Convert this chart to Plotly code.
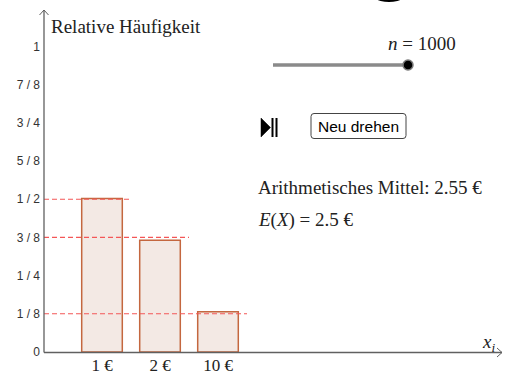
import plotly.graph_objects as go

# data
categories = ["1 €", "2 €", "10 €"]
payouts = [1, 2, 10]
rel_freq = [0.502, 0.366, 0.132]
probs = [1 / 2, 3 / 8, 1 / 8]
y_ticks = [0, 1 / 8, 1 / 4, 3 / 8, 1 / 2, 5 / 8, 3 / 4, 7 / 8, 1]
y_tick_labels = ["0", "1 / 8", "1 / 4", "3 / 8", "1 / 2", "5 / 8", "3 / 4", "7 / 8", "1"]
n_draws = 1000

W, H = 509, 374
L, B = 44, 22
PW, PH = W - L, H - B
X_RANGE = [0, PW / 58]
Y_RANGE = [0, PH / 305.6]

SERIF = "Liberation Serif, DejaVu Serif, serif"
SANS = "Liberation Sans, Arial, sans-serif"
SP = "&nbsp;"


def px(X):
    return (X - L) / PW


def py(Y):
    return (PH - Y) / PH


positions = list(range(1, len(categories) + 1))
mean = sum(p * f for p, f in zip(payouts, rel_freq))
expect = sum(p * q for p, q in zip(payouts, probs))

fig = go.Figure()
fig.add_trace(go.Bar(
    x=positions, y=rel_freq, width=0.7,
    marker=dict(color="#F3E9E4", line=dict(color="#C4673F", width=1.5)),
    hoverinfo="skip",
))

shapes = []
# theoretical probabilities as dashed lines
for pos, q in zip(positions, probs):
    shapes.append(dict(type="line", xref="x", yref="y", x0=0, x1=pos + 0.5, y0=q, y1=q,
                       line=dict(color="#F45757", width=1.1, dash="5px,3px")))

# axes with open arrow heads
ax_col = "#606060"
shapes += [
    dict(type="line", xref="paper", yref="paper", x0=px(44), x1=px(502), y0=py(352.5), y1=py(352.5),
         line=dict(color=ax_col, width=1.3)),
    dict(type="line", xref="paper", yref="paper", x0=px(44), x1=px(44), y0=py(352.5), y1=py(10),
         line=dict(color=ax_col, width=1.3)),
    dict(type="path", xref="paper", yref="paper",
         path=f"M {px(497)} {py(348)} L {px(502)} {py(352.5)} L {px(497)} {py(357)}",
         line=dict(color=ax_col, width=1)),
    dict(type="path", xref="paper", yref="paper",
         path=f"M {px(39.5)} {py(15)} L {px(44)} {py(10)} L {px(48.5)} {py(15)}",
         line=dict(color=ax_col, width=1)),
]

# slider
shapes += [
    dict(type="line", xref="paper", yref="paper", x0=px(273), x1=px(408), y0=py(65), y1=py(65),
         line=dict(color="#8a8a8a", width=3.5)),
    dict(type="circle", xref="paper", yref="paper", x0=px(403), x1=px(413), y0=py(60), y1=py(70),
         fillcolor="black", line=dict(color="#7a7a7a", width=1.5)),
]

# play/pause icon
shapes += [
    dict(type="path", xref="paper", yref="paper",
         path=f"M {px(261)} {py(118)} L {px(270.5)} {py(127.5)} L {px(261)} {py(137)} Z",
         fillcolor="black", line=dict(color="black", width=0.5)),
    dict(type="rect", xref="paper", yref="paper", x0=px(271.5), x1=px(273.5), y0=py(118), y1=py(137),
         fillcolor="black", line=dict(width=0)),
    dict(type="rect", xref="paper", yref="paper", x0=px(275.5), x1=px(277.5), y0=py(118), y1=py(137),
         fillcolor="black", line=dict(width=0)),
]

# button with rounded corners
bx0, bx1, by0, by1, r = 311, 406, 113.5, 138.5, 3
btn = (f"M {px(bx0 + r)} {py(by0)} L {px(bx1 - r)} {py(by0)} "
       f"Q {px(bx1)} {py(by0)} {px(bx1)} {py(by0 + r)} L {px(bx1)} {py(by1 - r)} "
       f"Q {px(bx1)} {py(by1)} {px(bx1 - r)} {py(by1)} L {px(bx0 + r)} {py(by1)} "
       f"Q {px(bx0)} {py(by1)} {px(bx0)} {py(by1 - r)} L {px(bx0)} {py(by0 + r)} "
       f"Q {px(bx0)} {py(by0)} {px(bx0 + r)} {py(by0)} Z")
shapes.append(dict(type="path", xref="paper", yref="paper", path=btn,
                   fillcolor="white", line=dict(color="#444444", width=1)))

# partial black object at top edge
shapes.append(dict(type="circle", xref="paper", yref="paper", x0=px(367), x1=px(411), y0=py(-26), y1=py(2),
                   fillcolor="black", line=dict(width=0)))

annotations = [
    dict(text="Relative Häufigkeit", x=px(49), y=py(27), xanchor="left", yanchor="middle",
         font=dict(family=SERIF, size=19, color="#222")),
    dict(text="<i>x</i><sub><i>i</i></sub>", x=px(488), y=py(343), xanchor="center", yanchor="middle",
         font=dict(family=SERIF, size=19, color="#222")),
    dict(text=f"<i>n</i>{SP}={SP}{n_draws}", x=px(422), y=py(43), xanchor="center", yanchor="middle",
         font=dict(family=SERIF, size=19, color="#222")),
    dict(text="Neu drehen", x=px(358.5), y=py(126.5), xanchor="center", yanchor="middle",
         font=dict(family=SANS, size=15.5, color="black")),
    dict(text=f"Arithmetisches Mittel: {mean:.2f} €", x=px(256), y=py(187), xanchor="left", yanchor="middle",
         font=dict(family=SERIF, size=19, color="#222")),
    dict(text=f"<i>E</i>(<i>X</i>){SP}={SP}{expect:g} €", x=px(256), y=py(220), xanchor="left", yanchor="middle",
         font=dict(family=SERIF, size=19, color="#222")),
]
for a in annotations:
    a.update(xref="paper", yref="paper", showarrow=False)

fig.update_layout(
    width=W, height=H, autosize=False,
    margin=dict(l=L, r=0, t=0, b=B, pad=0, autoexpand=False),
    paper_bgcolor="white", plot_bgcolor="white",
    showlegend=False,
    shapes=shapes,
    annotations=annotations,
    xaxis=dict(range=X_RANGE, tickvals=positions, ticktext=categories, showgrid=False,
               zeroline=False, showline=False, ticks="", ticklabelstandoff=1, automargin=False,
               tickfont=dict(family=SERIF, size=17, color="#222"), fixedrange=True),
    yaxis=dict(range=Y_RANGE, tickvals=y_ticks, ticktext=y_tick_labels, showgrid=False,
               zeroline=False, showline=False, ticks="", ticklabelstandoff=3, automargin=False,
               tickfont=dict(family=SANS, size=12, color="#333"), fixedrange=True),
)

fig.write_html("out.html", config={"displayModeBar": False},
               post_script="document.body.style.margin='0';")
